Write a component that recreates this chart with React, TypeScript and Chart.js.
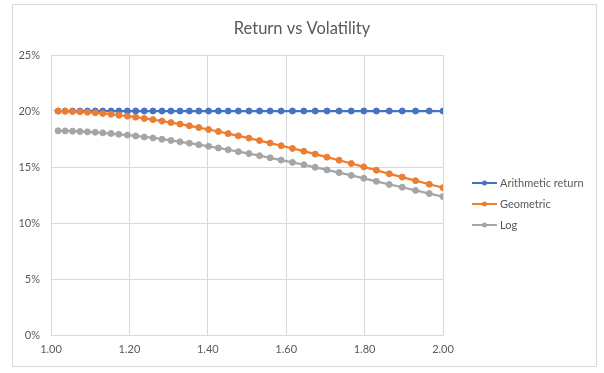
import React, { useEffect, useRef } from "react";
import { Chart, registerables } from "chart.js";

Chart.register(...registerables);

const chartTitle = "Return vs Volatility";
const seriesNames = ["Arithmetic return", "Geometric", "Log"];
const seriesColors = ["#4472C4", "#ED7D31", "#A5A5A5"];

const volatility = [
  1.018, 1.036, 1.055, 1.074, 1.093, 1.113, 1.132, 1.153, 1.173, 1.195,
  1.216, 1.238, 1.26, 1.283, 1.306, 1.329, 1.353, 1.377, 1.402, 1.427,
  1.452, 1.478, 1.505, 1.532, 1.559, 1.587, 1.616, 1.645, 1.674, 1.704,
  1.735, 1.766, 1.798, 1.83, 1.863, 1.896, 1.93, 1.965, 2.0,
];

const arithmeticReturn = [
  20, 20, 20, 20, 20, 20, 20, 20, 20, 20,
  20, 20, 20, 20, 20, 20, 20, 20, 20, 20,
  20, 20, 20, 20, 20, 20, 20, 20, 20, 20,
  20, 20, 20, 20, 20, 20, 20, 20, 20,
];

const geometricReturn = [
  19.99, 19.98, 19.96, 19.93, 19.89, 19.84, 19.78, 19.71, 19.63, 19.54,
  19.45, 19.34, 19.23, 19.1, 18.97, 18.83, 18.68, 18.52, 18.35, 18.17,
  17.98, 17.78, 17.58, 17.36, 17.14, 16.9, 16.66, 16.41, 16.15, 15.88,
  15.6, 15.31, 15.01, 14.71, 14.39, 14.1, 13.78, 13.46, 13.15,
];

const logReturn = [
  18.23, 18.22, 18.2, 18.17, 18.14, 18.1, 18.05, 17.99, 17.92, 17.85,
  17.77, 17.68, 17.59, 17.48, 17.37, 17.25, 17.13, 16.99, 16.85, 16.7,
  16.54, 16.37, 16.2, 16.01, 15.82, 15.62, 15.41, 15.2, 14.97, 14.74,
  14.5, 14.25, 13.99, 13.72, 13.44, 13.19, 12.91, 12.63, 12.36,
];

const xMin = 1;
const xMax = 2;
const xStep = 0.2;
const yMin = 0;
const yMax = 25;
const yStep = 5;

const FONT = "Lato, 'Open Sans', sans-serif";
const TEXT = "#595959";
const GRID = "#D9D9D9";

const overlayPlugin = {
  id: "overlay",
  afterDraw(chart: any) {
    const ctx = chart.ctx;
    ctx.save();
    // title
    ctx.fillStyle = TEXT;
    ctx.font = `16.5px ${FONT}`;
    ctx.textAlign = "center";
    ctx.textBaseline = "middle";
    ctx.fillText(chartTitle, 302, 29);
    // legend
    ctx.font = `11px ${FONT}`;
    ctx.textAlign = "left";
    chart.data.datasets.forEach((ds: any, i: number) => {
      const y = 183 + i * 21;
      ctx.strokeStyle = ds.borderColor;
      ctx.lineWidth = 2;
      ctx.beginPath();
      ctx.moveTo(472, y);
      ctx.lineTo(497, y);
      ctx.stroke();
      ctx.fillStyle = ds.borderColor;
      ctx.beginPath();
      ctx.arc(484.5, y, 2.5, 0, Math.PI * 2);
      ctx.fill();
      ctx.fillStyle = TEXT;
      ctx.fillText(ds.label, 500, y);
    });
    ctx.restore();
  },
};

export default function App() {
  const ref = useRef<HTMLCanvasElement | null>(null);

  useEffect(() => {
    if (!ref.current) return;
    const mk = (vals: number[], i: number, order: number) => ({
      label: seriesNames[i],
      data: volatility.map((x, k) => ({ x, y: vals[k] })),
      borderColor: seriesColors[i],
      backgroundColor: seriesColors[i],
      pointBackgroundColor: seriesColors[i],
      pointBorderColor: seriesColors[i],
      pointRadius: 3,
      pointBorderWidth: 1,
      borderWidth: 2.25,
      tension: 0,
      fill: false,
      order,
    });
    const chart = new Chart(ref.current, {
      type: "line",
      data: {
        datasets: [
          mk(arithmeticReturn, 0, 3),
          mk(geometricReturn, 1, 2),
          mk(logReturn, 2, 1),
        ],
      },
      options: {
        animation: false,
        responsive: false,
        maintainAspectRatio: false,
        devicePixelRatio: 1,
        layout: { padding: { top: 55, right: 161, left: 0, bottom: 0 } },
        plugins: {
          legend: { display: false },
          title: { display: false },
          tooltip: { enabled: false },
        },
        scales: {
          x: {
            type: "linear",
            min: xMin,
            max: xMax,
            ticks: {
              stepSize: xStep,
              color: TEXT,
              font: { family: FONT, size: 11 },
              padding: 8,
              maxRotation: 0,
              callback: (v: any) => Number(v).toFixed(2),
            },
            grid: { color: GRID, drawTicks: false, lineWidth: 1 },
            border: { color: GRID },
            afterFit: (s: any) => {
              s.height = 38;
            },
          },
          y: {
            min: yMin,
            max: yMax,
            ticks: {
              stepSize: yStep,
              color: TEXT,
              font: { family: FONT, size: 11 },
              padding: 11,
              callback: (v: any) => `${Math.round(Number(v))}%`,
            },
            grid: { color: GRID, drawTicks: false, lineWidth: 1 },
            border: { color: GRID },
            afterFit: (s: any) => {
              s.width = 51;
            },
          },
        },
      },
      plugins: [overlayPlugin],
    } as any);
    return () => chart.destroy();
  }, []);

  return (
    <div
      style={{
        position: "fixed",
        left: 0,
        top: 0,
        width: 604,
        height: 373,
        background: "#fff",
      }}
    >
      <div
        style={{
          position: "absolute",
          left: 12,
          top: 4,
          width: 585,
          height: 363,
          border: "1px solid #D9D9D9",
          boxSizing: "border-box",
        }}
      />
      <canvas
        ref={ref}
        width={604}
        height={373}
        style={{ position: "absolute", left: 0, top: 0, width: 604, height: 373 }}
      />
    </div>
  );
}
